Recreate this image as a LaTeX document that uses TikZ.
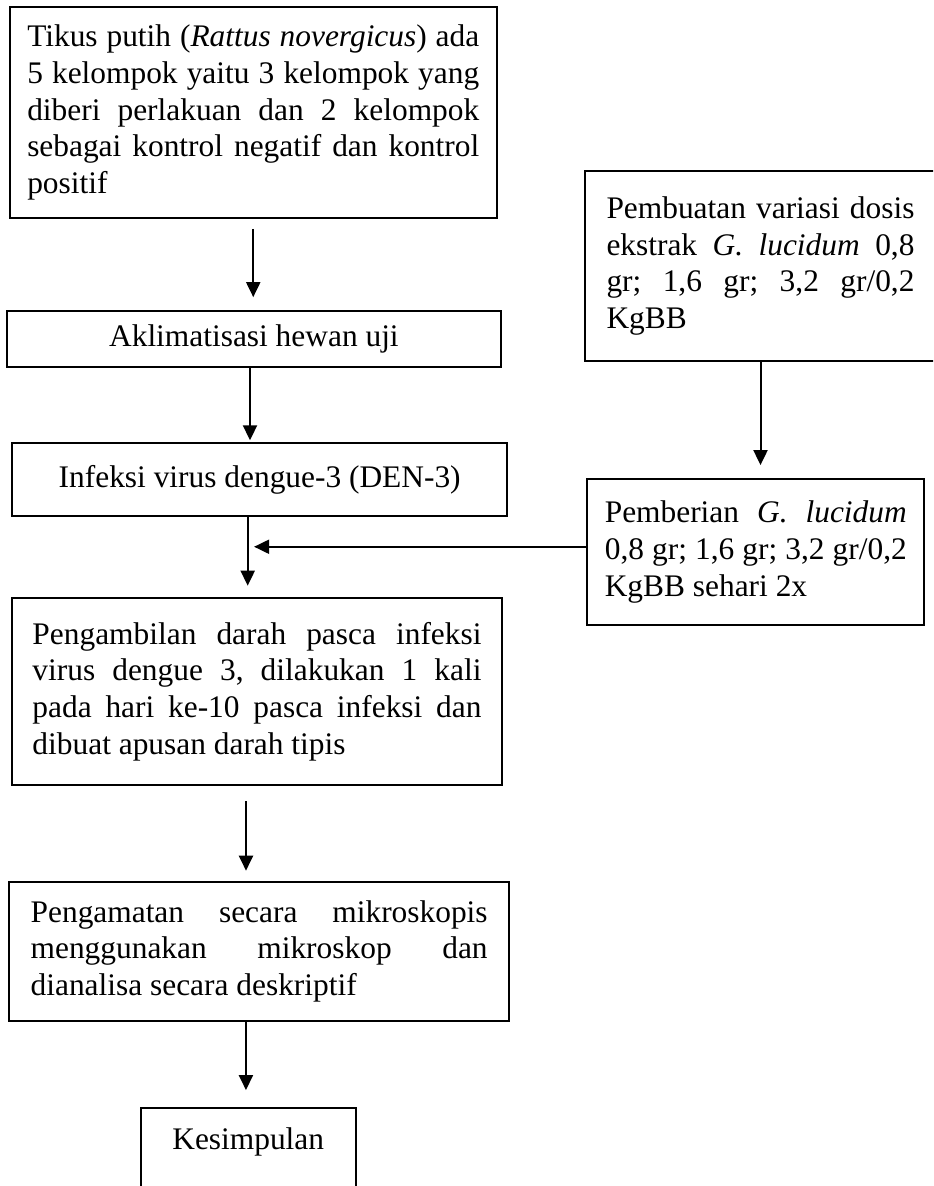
\documentclass[tikz,border=0pt]{standalone}
\usepackage{fontspec}
\setmainfont{Liberation Serif}
\usepackage{tikz}
\usetikzlibrary{arrows.meta}

\tikzset{
	kotak/.style={draw, line width=1pt, font=\fontsize{15.7}{18.35}\selectfont},
	panah/.style={-{Triangle[length=7.5pt,width=7pt]}, line width=1pt}
}

\begin{document}
\begin{tikzpicture}[x=0.5pt,y=-0.5pt]
		\hyphenpenalty=10000 \exhyphenpenalty=10000 \tolerance=10000 \frenchspacing
		% Rahmen 933 x 1186
		\useasboundingbox (0,0) rectangle (933,1186);
		\clip (0,0) rectangle (933,1186);
		
		% linke Spalte
		\node[kotak, align=justify, text width=226pt, minimum width=243.75pt, minimum height=105.5pt] (tikus) at (253.25,112.5)
		{Tikus putih (\textit{Rattus novergicus}) ada\linebreak 5 kelompok yaitu 3 kelompok yang\linebreak diberi perlakuan dan 2 kelompok\linebreak sebagai kontrol negatif dan kontrol\linebreak positif};
		\node[kotak, align=center, minimum width=247.15pt, minimum height=28.15pt] (aklim) at (253.9,338.9) {Aklimatisasi hewan uji};
		\node[kotak, align=center, minimum width=247.35pt, minimum height=36.2pt] (infeksi) at (259.7,479.5) {Infeksi virus dengue-3 (DEN-3)};
		\node[kotak, align=justify, text width=224.5pt, minimum width=244.7pt, minimum height=93.65pt] (ambil) at (257,691.35)
		{Pengambilan darah pasca infeksi\linebreak virus dengue 3, dilakukan 1 kali\linebreak pada hari ke-10 pasca infeksi dan\linebreak dibuat apusan darah tipis};
		\node[kotak, align=justify, text width=228.5pt, minimum width=249.85pt, minimum height=69.5pt] (amati) at (259.15,951.2)
		{Pengamatan secara mikroskopis\linebreak menggunakan mikroskop dan\linebreak dianalisa secara deskriptif};
		\node[kotak, align=center, anchor=north, minimum width=107.5pt, inner ysep=10pt, text height=10.7pt, text depth=50pt] (simpul) at (248.2,1106.7) {Kesimpulan};
		
		% rechte Spalte
		\node[kotak, align=justify, text width=154pt, minimum width=175.5pt, minimum height=94.6pt] (dosis) at (760.5,266.1)
		{Pembuatan variasi dosis\linebreak ekstrak \textit{G. lucidum} 0,8\linebreak gr; 1,6 gr; 3,2 gr/0,2\linebreak KgBB};
		\node[kotak, align=justify, text width=151pt, minimum width=168.5pt, minimum height=72.85pt] (beri) at (755.8,552.15)
		{Pemberian \textit{G. lucidum}\linebreak 0,8 gr; 1,6 gr; 3,2 gr/0,2\linebreak KgBB sehari 2x};
		
		% Pfeile
		\coordinate (p2) at ([xshift=-1.95pt]aklim.south);
		\coordinate (p3) at ([xshift=-6pt]infeksi.south);
		\coordinate (p4) at ([xshift=-5.5pt]ambil.south);
		\coordinate (p5) at ([xshift=-6.6pt]amati.south);
		\coordinate (masuk) at ([yshift=2.7pt]beri.west);
		\draw[panah, shorten <=5pt, shorten >=6.3pt] (tikus.south) -- (tikus.south |- aklim.north);
		\draw[panah, shorten >=1pt] (p2) -- (p2 |- infeksi.north);
		\draw[panah, shorten >=5.5pt] (p3) -- (p3 |- ambil.north);
		\draw[panah, shorten <=7.5pt, shorten >=5pt] (p4) -- (p4 |- amati.north);
		\draw[panah, shorten >=8.3pt] (p5) -- (p5 |- simpul.north);
		\draw[panah, shorten >=6.6pt] (dosis.south) -- (dosis.south |- beri.north);
		\draw[panah, shorten >=3.2pt] (masuk) -- (masuk -| p3);
		
	\end{tikzpicture}
\end{document}
